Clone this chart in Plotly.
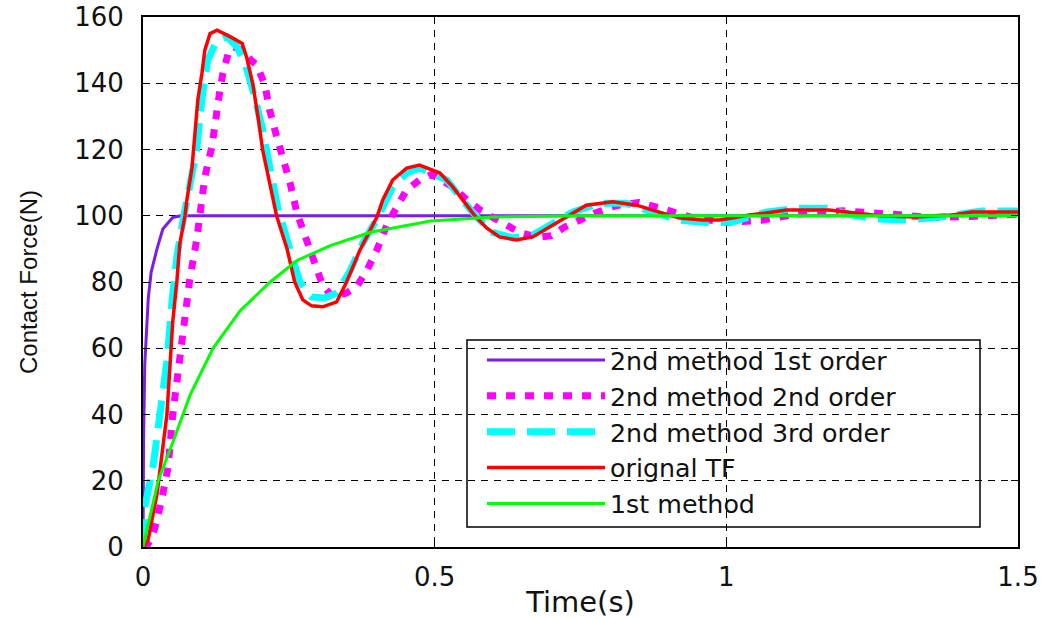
import plotly.graph_objects as go

# ---- step responses of the contact-force model (time in s, force in N) ----
t_m2o1 = [0, 0.001, 0.003, 0.006, 0.009, 0.014, 0.019, 0.024, 0.034, 0.051, 0.065, 1.5]
f_m2o1 = [0, 33, 55, 66, 75, 83, 87, 90, 96, 99.5, 100, 100]

t_m2o2 = [0, 0.008, 0.015, 0.024, 0.034, 0.043, 0.051, 0.060, 0.068, 0.080, 0.092, 0.106,
          0.118, 0.123, 0.132, 0.137, 0.146, 0.155, 0.170, 0.185, 0.195, 0.209, 0.217, 0.229,
          0.240, 0.252, 0.264, 0.281, 0.295, 0.308, 0.325, 0.349, 0.366, 0.384, 0.401, 0.418,
          0.435, 0.452, 0.474, 0.495, 0.531, 0.555, 0.580, 0.608, 0.645, 0.677, 0.700, 0.722,
          0.773, 0.810, 0.849, 0.893, 0.940, 1.000, 1.060, 1.120, 1.200, 1.280, 1.350, 1.420, 1.500]
f_m2o2 = [0, 0.8, 2.7, 8, 16, 24, 40, 52.5, 66.4, 80.6, 92.7, 111.7,
          120.8, 128, 138, 143, 149, 151, 150, 147, 145.5, 139.5, 132, 124,
          118, 110, 100.8, 91.8, 84.5, 79, 75.5, 76.7, 78.5, 83.6, 89.7, 97.2,
          102.6, 107.8, 110.8, 112.5, 108.7, 104.8, 101.5, 98.6, 95, 93.5, 94, 96.5,
          100.7, 103, 104, 102, 99.5, 98, 98.6, 100.5, 101.5, 100.5, 99.5, 99.8, 100.5]

t_m2o3 = [0, 0.003, 0.017, 0.029, 0.041, 0.050, 0.058, 0.068, 0.080, 0.092, 0.101, 0.111,
          0.127, 0.144, 0.161, 0.175, 0.188, 0.204, 0.217, 0.231, 0.252, 0.269, 0.289, 0.312,
          0.332, 0.354, 0.377, 0.402, 0.428, 0.452, 0.474, 0.521, 0.543, 0.572, 0.599, 0.634,
          0.668, 0.702, 0.736, 0.783, 0.829, 0.873, 0.920, 0.976, 1.010, 1.068, 1.125, 1.171,
          1.216, 1.257, 1.308, 1.365, 1.438, 1.500]
f_m2o3 = [0, 12, 24, 40, 56, 74.6, 87.5, 98, 108.7, 120, 135, 147,
          153, 154, 151, 146, 138, 127, 115, 102.6, 89.7, 80, 75.5, 75.2,
          76.7, 83, 91.8, 99.3, 108.7, 112.9, 114.4, 110.8, 105.7, 99.6, 95, 93.3,
          94.2, 97.8, 101.1, 103.8, 103.8, 101.1, 98.7, 97.8, 98.1, 101.1, 102.3, 102.3,
          100.2, 99, 98.7, 99.6, 101.4, 101.4]

t_orig = [0, 0.003, 0.0086, 0.024, 0.0325, 0.041, 0.046, 0.051, 0.058, 0.063, 0.072, 0.075,
          0.084, 0.089, 0.094, 0.101, 0.106, 0.115, 0.127, 0.150, 0.170, 0.178, 0.188, 0.197,
          0.205, 0.217, 0.229, 0.247, 0.260, 0.274, 0.289, 0.308, 0.332, 0.349, 0.372, 0.401,
          0.411, 0.428, 0.452, 0.474, 0.509, 0.531, 0.548, 0.568, 0.589, 0.611, 0.640, 0.668,
          0.697, 0.726, 0.760, 0.805, 0.846, 0.885, 0.920, 0.959, 0.988, 1.010, 1.039, 1.068,
          1.103, 1.176, 1.216, 1.267, 1.325, 1.387, 1.421, 1.500]
f_orig = [0, 0.5, 2, 16, 28, 40, 54, 68, 80, 91.5, 100, 104.5,
          114.5, 125, 135, 143, 150, 155, 156, 154, 152, 147.6, 140, 130,
          120, 110, 100, 90, 80, 74.6, 72.8, 72.5, 74, 80, 89.7, 99.6,
          104.8, 110.8, 114.4, 115.3, 112.9, 108.7, 104.8, 100.2, 96.3, 93.6, 92.7, 93.6,
          96.6, 99.6, 103.2, 104.2, 103.2, 101.1, 99.3, 98.7, 98.7, 99.3, 100.2, 100.8,
          101.7, 101.7, 100.8, 99.9, 99.6, 100.2, 101.1, 101.1]

t_m1 = [0, 0.026, 0.052, 0.081, 0.120, 0.167, 0.218, 0.264, 0.321, 0.390, 0.493, 0.600, 0.750, 1.0, 1.5]
f_m1 = [0, 20, 32, 46, 60, 71.4, 80, 86.5, 91, 95, 98.4, 99.6, 100, 100, 100]

names = ["2nd method 1st order", "2nd method 2nd order", "2nd method 3rd order",
         "orignal TF", "1st method"]

x_ticks = [0, 0.5, 1, 1.5]
y_ticks = [0, 20, 40, 60, 80, 100, 120, 140, 160]

fig = go.Figure()

series = [
    (t_m2o1, f_m2o1, dict(color="#7a1de6", width=3)),
    (t_m2o2, f_m2o2, dict(color="#ff00ff", width=7, dash="9px,10px")),
    (t_m2o3, f_m2o3, dict(color="#00ffff", width=7, dash="28px,12px")),
    (t_orig, f_orig, dict(color="#ff0000", width=3.5)),
    (t_m1, f_m1, dict(color="#00ff00", width=3)),
]
for (tx, fy, ln), nm in zip(series, names):
    fig.add_trace(go.Scatter(x=tx, y=fy, mode="lines", name=nm, line=ln))

# plot-area geometry (pixels)
L, R, T, B = 143, 1018, 17, 547
W, H = R - L, B - T

def px_x(p):
    return (p - L) / W

def px_y(p):
    return (B - p) / H

# white legend panel with a black frame, above the grid, below the curves
fig.add_shape(type="rect", xref="paper", yref="paper",
              x0=px_x(467), x1=px_x(980), y0=px_y(527), y1=px_y(340),
              fillcolor="white", line=dict(color="black", width=1.5), layer="between")

axis_common = dict(
    showline=True, linecolor="black", linewidth=2, mirror="ticks",
    ticks="inside", ticklen=7, tickcolor="black", tickwidth=1.2,
    showgrid=True, gridcolor="black", gridwidth=1.3, griddash="7px,6px",
    zeroline=False, automargin=False,
    tickfont=dict(family="DejaVu Sans", size=26, color="#111"),
)

fig.update_layout(
    width=1048, height=619,
    margin=dict(l=L, r=1048 - R, t=T, b=619 - B, autoexpand=False),
    paper_bgcolor="white", plot_bgcolor="white",
    xaxis=dict(axis_common, range=[0, 1.5], tickvals=x_ticks,
               ticktext=[f"{v:g}" for v in x_ticks], ticklabelstandoff=6,
               title=dict(text="Time(s)", standoff=6,
                          font=dict(family="DejaVu Sans", size=29, color="#111"))),
    yaxis=dict(axis_common, range=[0, 160], tickvals=y_ticks,
               ticktext=[str(v) for v in y_ticks], ticklabelstandoff=12,
               title=dict(text="Contact Force(N)", standoff=30,
                          font=dict(family="Liberation Sans", size=24, color="#111"))),
    legend=dict(x=px_x(482), y=px_y(337), xanchor="left", yanchor="top",
                bgcolor="rgba(0,0,0,0)", borderwidth=0, itemwidth=118,
                tracegroupgap=0,
                font=dict(family="DejaVu Sans", size=25.3, color="#111")),
    showlegend=True,
)

fig.write_html("out.html")
